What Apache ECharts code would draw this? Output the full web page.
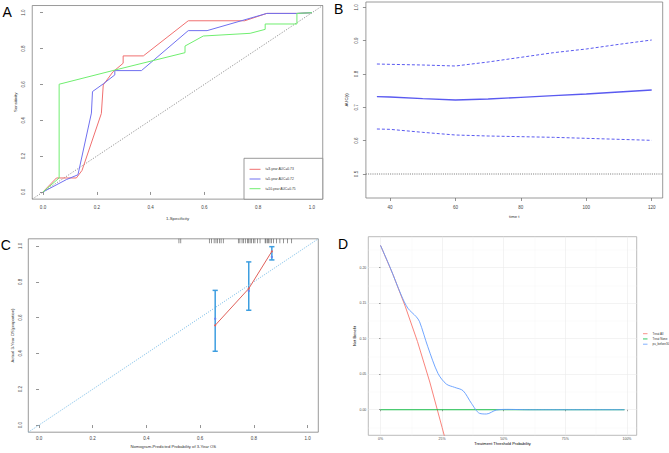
<!DOCTYPE html>
<html><head><meta charset="utf-8">
<script src="https://cdn.jsdelivr.net/npm/echarts@6.0.0/dist/echarts.min.js"></script>
<style>html,body{margin:0;padding:0;background:#fff}#c{width:669px;height:453px}</style>
</head><body><div id="c"></div>
<script>
// ---------- Panel A: time-dependent ROC ----------
const rocFpr3  = [0, 0.05, 0.124, 0.145, 0.217, 0.224, 0.26, 0.298, 0.298, 0.373, 0.54, 0.75, 0.832, 0.944, 1];
const rocTpr3  = [0, 0.078, 0.078, 0.12, 0.438, 0.597, 0.67, 0.718, 0.759, 0.759, 0.955, 0.955, 0.996, 0.996, 1];
const rocFpr5  = [0, 0.087, 0.13, 0.18, 0.184, 0.224, 0.267, 0.267, 0.366, 0.54, 0.61, 0.832, 0.944, 1];
const rocTpr5  = [0, 0.069, 0.096, 0.44, 0.56, 0.603, 0.653, 0.677, 0.677, 0.9, 0.9, 0.996, 0.996, 1];
const rocFpr10 = [0, 0.06, 0.06, 0.267, 0.528, 0.528, 0.596, 0.77, 0.826, 0.826, 0.944, 0.944, 1];
const rocTpr10 = [0, 0.078, 0.601, 0.68, 0.777, 0.814, 0.87, 0.885, 0.907, 0.937, 0.937, 0.996, 1];
const rocNames = ['t=3-year AUC=0.73', 't=5-year AUC=0.72', 't=10-year AUC=0.75'];
const unitTicks = [0, 0.2, 0.4, 0.6, 0.8, 1.0];

// ---------- Panel B: AUC(t) over time ----------
const bTime  = [36, 40, 50, 60, 70, 80, 90, 100, 110, 120];
const bAuc   = [0.732, 0.731, 0.726, 0.722, 0.725, 0.730, 0.735, 0.740, 0.746, 0.752];
const bUpper = [0.830, 0.829, 0.827, 0.824, 0.836, 0.850, 0.864, 0.875, 0.889, 0.902];
const bLower = [0.635, 0.634, 0.625, 0.617, 0.614, 0.612, 0.610, 0.607, 0.604, 0.601];
const bXTicks = [40, 60, 80, 100, 120];
const bYTicks = [0.5, 0.6, 0.7, 0.8, 0.9, 1.0];
const bRef = 0.5;

// ---------- Panel C: calibration ----------
const calPred = [0.656, 0.781, 0.867];
const calApp  = [0.557, 0.762, 0.970];
const calObs  = [0.594, 0.749, 0.939];
const calLo   = [0.412, 0.641, 0.922];
const calHi   = [0.752, 0.911, 0.996];
const calRug  = [0.521, 0.528, 0.634, 0.643, 0.652, 0.659, 0.665, 0.672, 0.678, 0.686,
                 0.742, 0.748, 0.756, 0.762, 0.768, 0.776, 0.781, 0.786, 0.792, 0.798, 0.804, 0.813, 0.823,
                 0.842, 0.845, 0.850, 0.855, 0.860, 0.866, 0.873, 0.885, 0.897, 0.910, 0.925, 0.941];

// ---------- Panel D: decision curve ----------
const dAllX   = [0, 0.05, 0.10, 0.15, 0.20, 0.25, 0.26];
const dAllY   = [0.2315, 0.191, 0.146, 0.096, 0.039, -0.025, -0.038];
const dNoneX  = [0, 0.99];
const dNoneY  = [0, 0];
const dModX   = [0, 0.04, 0.084, 0.111, 0.145, 0.1585, 0.192, 0.233, 0.267, 0.301, 0.335, 0.369, 0.402, 0.43, 0.47, 0.517, 0.6, 0.99];
const dModY   = [0.2315, 0.1995, 0.1615, 0.143, 0.131, 0.124, 0.0887, 0.0513, 0.0362, 0.0315, 0.0268, 0.009, -0.0051, -0.006, -0.0004, 0.0005, 0, 0];
const dNames  = ['Treat All', 'Treat None', 'pu_before30'];
const dXTicks = [0, 0.25, 0.5, 0.75, 1];
const dXMinor = [0.125, 0.375, 0.625, 0.875];
const dYTicks = [0, 0.05, 0.10, 0.15, 0.20];
const dYMinor = [-0.025, 0.025, 0.075, 0.125, 0.175, 0.225];

const FONT = "'Liberation Sans', Arial, sans-serif";
const zip = (a, b) => a.map((v, i) => [v, b[i]]);
const f1 = v => v.toFixed(1);

// range limits (R style 4% extension / ggplot 5% expansion)
const A = {xmin: -0.04, xmax: 1.04, ymin: -0.04, ymax: 1.04};
const B = {xmin: 32.64, xmax: 123.36, ymin: 0.428, ymax: 1.016};
const C = {xmin: -0.04, xmax: 1.04, ymin: -0.04, ymax: 1.04};
const D = {xmin: -0.0495, xmax: 1.0395, ymin: -0.036, ymax: 0.2437};

function rAxis(grid, lim, ticks, fmt, name, gap, margin, isY, nameSize) {
  return {
    type: 'value', gridIndex: grid, min: lim[0], max: lim[1],
    name: name, nameLocation: 'middle', nameGap: gap, nameMoveOverlap: false,
    nameTextStyle: {fontSize: nameSize || 4.3, color: '#333', fontFamily: FONT},
    axisLine: {show: false},
    axisTick: {show: true, length: 3, customValues: ticks, lineStyle: {color: '#666', width: 0.7}},
    axisLabel: {show: true, customValues: ticks, formatter: fmt, fontSize: 4.5, color: '#444',
                margin: margin, rotate: isY ? 90 : 0, fontFamily: FONT},
    splitLine: {show: false}
  };
}

const gridR = {show: true, borderColor: '#808080', borderWidth: 0.8, outerBoundsMode: 'none', containLabel: false};

const option = {
  animation: false,
  backgroundColor: '#fff',
  textStyle: {fontFamily: FONT},
  grid: [
    Object.assign({left: 32.24, top: 5.53, width: 290.5, height: 193.6}, gridR),
    Object.assign({left: 365.9, top: 2, width: 296.8, height: 196}, gridR),
    Object.assign({left: 28.3, top: 238.8, width: 290, height: 193.4}, gridR),
    {left: 368.3, top: 236.7, width: 268.4, height: 198.6, show: true, borderColor: '#aaaaaa', borderWidth: 0.8,
     outerBoundsMode: 'none', containLabel: false}
  ],
  xAxis: [
    rAxis(0, [A.xmin, A.xmax], unitTicks, f1, '1-Specificity', 17, 5.8, false),
    rAxis(1, [B.xmin, B.xmax], bXTicks, v => String(v), 'time t', 16.5, 6.5, false),
    rAxis(2, [C.xmin, C.xmax], unitTicks, f1, 'Nomogram-Predicted Probability of 3-Year OS', 12.7, 4, false, 4.2),
    {type: 'value', gridIndex: 3, min: D.xmin, max: D.xmax,
     name: 'Treatment Threshold Probability', nameLocation: 'middle', nameGap: 5.7, nameMoveOverlap: false,
     nameTextStyle: {fontSize: 4, color: '#000', fontFamily: FONT},
     axisLine: {show: false},
     axisTick: {show: true, length: 1.5, customValues: dXTicks, lineStyle: {color: '#444', width: 0.5}},
     axisLabel: {customValues: dXTicks, formatter: v => Math.round(v * 100) + '%', fontSize: 3.5, color: '#4d4d4d', margin: 1.6, fontFamily: FONT},
     splitLine: {show: true, lineStyle: {color: '#ebebeb', width: 0.6}}},
    {type: 'value', gridIndex: 3, position: 'top', min: D.xmin, max: D.xmax,
     axisLine: {show: false}, axisTick: {show: false, customValues: dXMinor}, axisLabel: {show: false},
     splitLine: {show: true, lineStyle: {color: '#f3f3f3', width: 0.4}}}
  ],
  yAxis: [
    rAxis(0, [A.ymin, A.ymax], unitTicks, f1, 'Sensitivity', 14.5, 6, true),
    rAxis(1, [B.ymin, B.ymax], bYTicks, f1, 'AUC(t)', 17.5, 7, true),
    rAxis(2, [C.ymin, C.ymax], unitTicks, f1, 'Actual 3-Year OS(proportion)', 14, 5.4, true, 4.2),
    {type: 'value', gridIndex: 3, min: D.ymin, max: D.ymax,
     name: 'Net Benefit', nameLocation: 'middle', nameGap: 12.3, nameMoveOverlap: false,
     nameTextStyle: {fontSize: 4, color: '#000', fontFamily: FONT},
     axisLine: {show: false},
     axisTick: {show: true, length: 1.5, customValues: dYTicks, lineStyle: {color: '#444', width: 0.5}},
     axisLabel: {customValues: dYTicks, formatter: v => v.toFixed(2), fontSize: 3.5, color: '#4d4d4d', margin: 2, fontFamily: FONT},
     splitLine: {show: true, lineStyle: {color: '#ebebeb', width: 0.6}}},
    {type: 'value', gridIndex: 3, position: 'right', min: D.ymin, max: D.ymax,
     axisLine: {show: false}, axisTick: {show: false, customValues: dYMinor}, axisLabel: {show: false},
     splitLine: {show: true, lineStyle: {color: '#f3f3f3', width: 0.4}}}
  ],
  legend: [
    {data: rocNames, orient: 'vertical', left: 244, top: 158.3, padding: [9, 27, 8.5, 5.5],
     itemWidth: 11, itemHeight: 1, itemGap: 5.7, icon: 'rect', selectedMode: false,
     backgroundColor: '#fff', borderColor: '#808080', borderWidth: 0.8, borderRadius: 0,
     textStyle: {fontSize: 3.3, lineHeight: 4, color: '#333', fontFamily: FONT}},
    {data: dNames, orient: 'vertical', left: 643, top: 332, padding: 0,
     itemWidth: 4.5, itemHeight: 0.8, itemGap: 1.7, icon: 'rect', selectedMode: false,
     textStyle: {fontSize: 3, lineHeight: 3.5, color: '#333', fontFamily: FONT}}
  ],
  graphic: [
    {type: 'text', x: 2.5, y: 4.7, style: {text: 'A', fontSize: 14, fill: '#000', fontFamily: FONT, verticalAlign: 'top'}},
    {type: 'text', x: 334, y: 2, style: {text: 'B', fontSize: 14, fill: '#000', fontFamily: FONT, verticalAlign: 'top'}},
    {type: 'text', x: 0.8, y: 238, style: {text: 'C', fontSize: 14, fill: '#000', fontFamily: FONT, verticalAlign: 'top'}},
    {type: 'text', x: 338, y: 237, style: {text: 'D', fontSize: 14, fill: '#000', fontFamily: FONT, verticalAlign: 'top'}}
  ],
  series: [
    // A
    {type: 'line', xAxisIndex: 0, yAxisIndex: 0, data: [[A.xmin, A.ymin], [A.xmax, A.ymax]], symbol: 'none',
     lineStyle: {color: '#777', width: 0.8, type: [1.2, 1.5]}, silent: true},
    {name: rocNames[0], type: 'line', xAxisIndex: 0, yAxisIndex: 0, data: zip(rocFpr3, rocTpr3), symbol: 'none',
     lineStyle: {color: '#f07070', width: 1}, itemStyle: {color: '#f07070'}},
    {name: rocNames[1], type: 'line', xAxisIndex: 0, yAxisIndex: 0, data: zip(rocFpr5, rocTpr5), symbol: 'none',
     lineStyle: {color: '#7070f0', width: 1}, itemStyle: {color: '#7070f0'}},
    {name: rocNames[2], type: 'line', xAxisIndex: 0, yAxisIndex: 0, data: zip(rocFpr10, rocTpr10), symbol: 'none',
     lineStyle: {color: '#70ee70', width: 1}, itemStyle: {color: '#70ee70'}},
    // B
    {type: 'line', xAxisIndex: 1, yAxisIndex: 1, data: [[B.xmin, bRef], [B.xmax, bRef]], symbol: 'none',
     lineStyle: {color: '#555', width: 0.8, type: [1, 1.2]}, silent: true},
    {type: 'line', xAxisIndex: 1, yAxisIndex: 1, data: zip(bTime, bUpper), symbol: 'none',
     lineStyle: {color: '#5a5af0', width: 1, type: [3, 2]}},
    {type: 'line', xAxisIndex: 1, yAxisIndex: 1, data: zip(bTime, bLower), symbol: 'none',
     lineStyle: {color: '#5a5af0', width: 1, type: [3, 2]}},
    {type: 'line', xAxisIndex: 1, yAxisIndex: 1, data: zip(bTime, bAuc), symbol: 'none',
     lineStyle: {color: '#5a5af0', width: 1.3}},
    // C
    {type: 'line', xAxisIndex: 2, yAxisIndex: 2, data: [[C.xmin, C.ymin], [C.xmax, C.ymax]], symbol: 'none',
     lineStyle: {color: '#7fbfe8', width: 0.9, type: [1.2, 1.2]}, silent: true},
    {type: 'scatter', xAxisIndex: 2, yAxisIndex: 2, data: calRug.map(v => [v, C.ymax]),
     symbol: 'rect', symbolSize: [0.6, 4.5], symbolOffset: [0, 2.25], itemStyle: {color: '#222'}, silent: true, clip: false},
    {type: 'custom', xAxisIndex: 2, yAxisIndex: 2,
     data: calPred.map((v, i) => [v, calLo[i], calHi[i]]),
     encode: {x: 0, y: [1, 2]},
     renderItem: function (params, api) {
       const lo = api.coord([api.value(0), api.value(1)]);
       const hi = api.coord([api.value(0), api.value(2)]);
       const cap = 2.6;
       const st = {stroke: '#3d9ee0', lineWidth: 1.5};
       return {type: 'group', children: [
         {type: 'line', shape: {x1: lo[0], y1: lo[1], x2: hi[0], y2: hi[1]}, style: st},
         {type: 'line', shape: {x1: lo[0] - cap, y1: lo[1], x2: lo[0] + cap, y2: lo[1]}, style: st},
         {type: 'line', shape: {x1: hi[0] - cap, y1: hi[1], x2: hi[0] + cap, y2: hi[1]}, style: st}
       ]};
     }},
    {type: 'line', xAxisIndex: 2, yAxisIndex: 2, data: zip(calPred, calApp), symbol: 'circle', symbolSize: 2,
     showSymbol: true, lineStyle: {color: '#e0605a', width: 1}, itemStyle: {color: '#e0605a'}},
    {type: 'scatter', xAxisIndex: 2, yAxisIndex: 2, data: zip(calPred, calObs), symbol: 'circle', symbolSize: 2.4,
     itemStyle: {color: '#6b7cf0'}},
    // D
    {name: dNames[0], type: 'line', xAxisIndex: 3, yAxisIndex: 3, data: zip(dAllX, dAllY), symbol: 'none',
     lineStyle: {color: '#F8766D', width: 0.9}, itemStyle: {color: '#F8766D'}},
    {name: dNames[1], type: 'line', xAxisIndex: 3, yAxisIndex: 3, data: zip(dNoneX, dNoneY), symbol: 'none',
     lineStyle: {color: '#00BA38', width: 0.9}, itemStyle: {color: '#00BA38'}},
    {name: dNames[2], type: 'line', xAxisIndex: 3, yAxisIndex: 3, data: zip(dModX, dModY), symbol: 'none',
     smooth: 0.3, lineStyle: {color: '#619CFF', width: 0.9}, itemStyle: {color: '#619CFF'}}
  ]
};

const chart = echarts.init(document.getElementById('c'), null, {renderer: 'svg', width: 669, height: 453});
chart.setOption(option);
</script>
</body></html>
